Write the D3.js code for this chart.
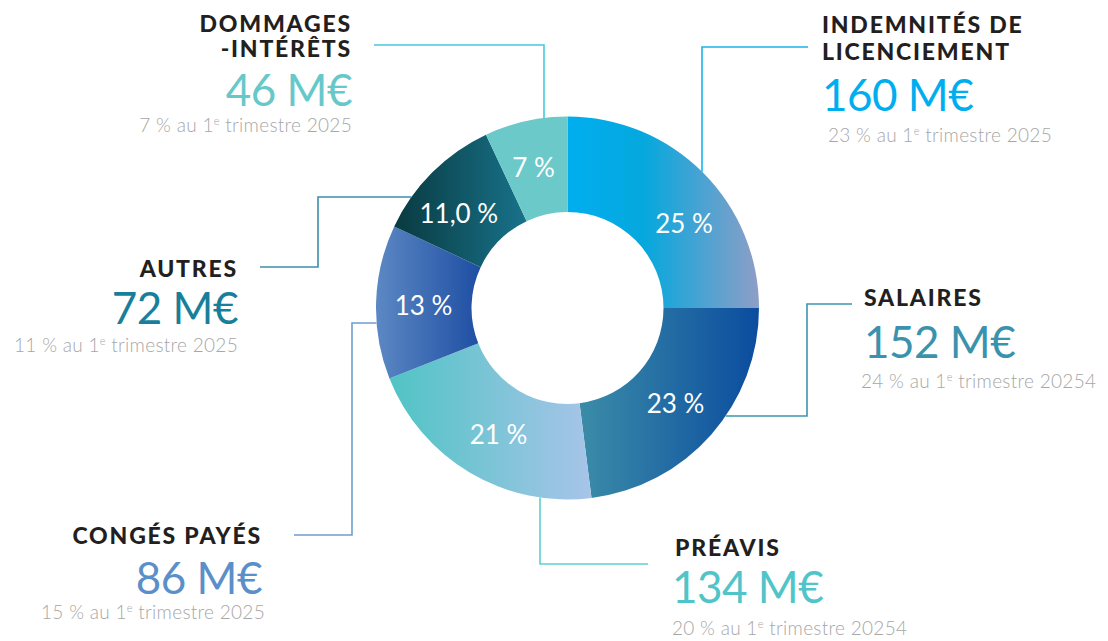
<!DOCTYPE html>
<html lang="fr">
<head>
<meta charset="utf-8">
<script src="https://cdn.jsdelivr.net/npm/d3@7"></script>
<style>
  html, body { margin: 0; padding: 0; background: #fff; }
  svg { display: block; font-family: Lato, "Noto Sans", sans-serif; }
</style>
</head>
<body>
<svg id="chart" width="1108" height="641"></svg>
<script>
// data, clockwise from 12 o'clock
const categories = [
  ["INDEMNITÉS DE", "LICENCIEMENT"],
  ["SALAIRES"],
  ["PRÉAVIS"],
  ["CONGÉS PAYÉS"],
  ["AUTRES"],
  ["DOMMAGES", "-INTÉRÊTS"]
];
const shares = [25, 23, 21, 13, 11, 7];
const shareLabels = ["25 %", "23 %", "21 %", "13 %", "11,0 %", "7 %"];
const amounts = [160, 152, 134, 86, 72, 46];
const previousShares = ["23 %", "24 %", "20 %", "15 %", "11 %", "7 %"];
const previousYears = ["2025", "20254", "20254", "2025", "2025", "2025"];

// slice gradients (left -> right)
const gradients = [
  [["0", "#00AEEF"], ["0.4", "#05A8DD"], ["1", "#8E9EC7"]],
  [["0", "#3B8CA8"], ["1", "#0B4C9F"]],
  [["0", "#50C4C5"], ["1", "#A8C4E9"]],
  [["0", "#5C88C4"], ["1", "#1E4EA3"]],
  [["0", "#093A40"], ["1", "#18728A"]],
  [["0", "#6BC9C9"], ["1", "#6BC9C9"]]
];
const valueColors = ["#00AEEF", "#3A92AD", "#4FC4C9", "#5B8FC9", "#187F9B", "#67C8CA"];
const lineColors = ["#1AB3EE", "#3E95AE", "#5ECFD3", "#6F9FD0", "#3C8FAA", "#45C8DE"];

// callout layout: text block + elbow connector (last point is found on the ring)
const callouts = [
  { x: 822, subX: 828, anchor: "start", titleY: [33, 60], valueY: 111, subY: 142,
    pts: [[808, 47], [702, 47]], hit: { x: 702, side: -1 } },
  { x: 864, subX: 861, anchor: "start", titleY: [306], valueY: 358, subY: 388,
    pts: [[852, 304], [807, 304], [807, 416]], hit: { y: 416, side: 1 } },
  { x: 675, subX: 672, valueX: 672, anchor: "start", titleY: [556], valueY: 603, subY: 635,
    pts: [[648, 564], [540, 564]], hit: { x: 540, side: 1 } },
  { x: 262, subX: 265, anchor: "end", titleY: [544], valueY: 594, subY: 619,
    pts: [[294, 535], [352, 535], [352, 323]], hit: { y: 323, side: -1 } },
  { x: 238, subX: 238, anchor: "end", titleY: [277], valueY: 324, subY: 352,
    pts: [[260, 267], [318, 267], [318, 197]], hit: { y: 197, side: -1 } },
  { x: 352, subX: 352, anchor: "end", titleY: [32, 57], valueY: 106, subY: 132,
    pts: [[374, 45], [544, 45]], hit: { x: 544, side: -1 } }
];
const labelNudge = [9, 0, -2, -1, -4, -1]; // degrees

const svg = d3.select("#chart");
const cx = 567.5, cy = 308;
const outerR = 191.5, innerR = 96, labelR = 144;

const defs = svg.append("defs");
gradients.forEach((stops, i) => {
  const g = defs.append("linearGradient").attr("id", `grad${i}`)
    .attr("x1", 0).attr("x2", 1).attr("y1", 0).attr("y2", 0);
  stops.forEach(s => g.append("stop").attr("offset", s[0]).attr("stop-color", s[1]));
});

const pie = d3.pie().sort(null).value(d => d);
const arcs = pie(shares);
const arc = d3.arc().innerRadius(innerR).outerRadius(outerR);

const g = svg.append("g").attr("transform", `translate(${cx}, ${cy})`);

g.selectAll(".slice")
  .data(arcs)
  .enter()
  .append("path")
  .attr("class", "slice")
  .attr("d", arc)
  .attr("fill", (d, i) => `url(#grad${i})`);

g.selectAll(".pct")
  .data(arcs)
  .enter()
  .append("text")
  .attr("class", "pct")
  .attr("transform", (d, i) => {
    const a = (d.startAngle + d.endAngle) / 2 + labelNudge[i] * Math.PI / 180;
    return `translate(${labelR * Math.sin(a)}, ${-labelR * Math.cos(a)})`;
  })
  .attr("text-anchor", "middle")
  .attr("dy", "0.36em")
  .attr("fill", "#fff")
  .attr("font-size", 26)
  .text((d, i) => shareLabels[i]);

// connectors
const line = d3.line();
callouts.forEach((c, i) => {
  let end;
  if (c.hit.x !== undefined) {
    const dx = c.hit.x - cx;
    end = [c.hit.x, cy + c.hit.side * Math.sqrt(outerR * outerR - dx * dx)];
  } else {
    const dy = c.hit.y - cy;
    end = [cx + c.hit.side * Math.sqrt(outerR * outerR - dy * dy), c.hit.y];
  }
  svg.append("path")
    .attr("d", line([...c.pts, end]))
    .attr("fill", "none")
    .attr("stroke", lineColors[i])
    .attr("stroke-width", 1.6);
});

// text blocks
callouts.forEach((c, i) => {
  const block = svg.append("g").attr("text-anchor", c.anchor);
  categories[i].forEach((t, k) => {
    block.append("text")
      .attr("x", c.x).attr("y", c.titleY[k])
      .attr("font-size", 23).attr("font-weight", 900)
      .attr("fill", "#231F20")
      .attr("letter-spacing", 1.8)
      .text(t);
  });
  block.append("text")
    .attr("x", c.valueX || c.x).attr("y", c.valueY)
    .attr("font-size", 44).attr("font-weight", 400)
    .attr("letter-spacing", -0.5)
    .attr("fill", valueColors[i])
    .text(`${amounts[i]} M€`);
  const sub = block.append("text")
    .attr("x", c.subX).attr("y", c.subY)
    .attr("font-size", 19).attr("font-weight", 300)
    .attr("letter-spacing", 0.3)
    .attr("fill", "#A7A7A7");
  sub.append("tspan").text(`${previousShares[i]} au 1`);
  sub.append("tspan").attr("font-size", 11).attr("dy", -7).text("e");
  sub.append("tspan").attr("dy", 7).text(` trimestre ${previousYears[i]}`);
});
</script>
</body>
</html>
